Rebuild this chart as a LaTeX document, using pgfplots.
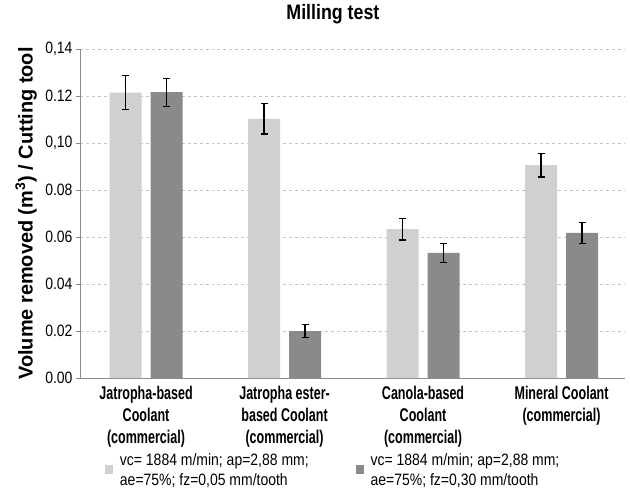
\documentclass[border=0pt]{standalone}
\usepackage{pgfplots}
\pgfplotsset{compat=1.18}
\usetikzlibrary{calc}
\usepackage{fontspec}
\setmainfont{Liberation Sans}[FakeStretch=0.85]
\newfontfamily\narrowfont{Liberation Sans}[FakeStretch=0.68]
\newfontfamily\ylabfont{Liberation Sans}
\definecolor{lightbar}{HTML}{D0D0D0}
\definecolor{darkbar}{HTML}{8A8A8A}
\definecolor{gridc}{HTML}{C4C4C4}
\definecolor{axc}{HTML}{8C8C8C}
\begin{document}
\begin{tikzpicture}
\begin{axis}[
  scale only axis,
  width=545bp, height=329bp,
  xmin=-0.477, xmax=3.458,
  ymin=0, ymax=0.14,
  ybar=0pt,
  bar width=32bp,
  axis x line*=bottom,
  axis y line*=left,
  axis line style={axc, line width=0.8pt},
  xtick={0,1,2,3},
  xticklabels={{Jatropha-based\\Coolant\\(commercial)},{Jatropha ester-\\based Coolant\\(commercial)},{Canola-based\\Coolant\\(commercial)},{Mineral Coolant\\(commercial)}},
  x tick style={draw=none},
  xticklabel style={anchor=north, align=center, inner sep=0pt, yshift=-3.5bp, font=\narrowfont\bfseries\fontsize{18.5}{22.5}\selectfont},
  ytick={0,0.02,0.04,0.06,0.08,0.10,0.12,0.14},
  yticklabels={0.00,0.02,0.04,0.06,0.08,{0,10},0.12,{0,14}},
  yticklabel style={font=\fontsize{16.5}{20}\selectfont, xshift=0bp},
  y tick style={axc, line width=0.8pt},
  tick align=outside,
  major tick length=4bp,
  ymajorgrids,
  grid style={gridc, dashed, line width=0.9pt},
  title={\bfseries Milling test},
  title style={at={(rel axis cs:0.464,1.0708)}, anchor=base, yshift=0pt, font=\fontsize{21}{25}\selectfont},
  ylabel={\ylabfont\bfseries Volume removed (m\textsuperscript{3}) / Cutting tool},
  every axis y label/.style={at={(rel axis cs:-0.099,0.5)}, anchor=center, rotate=90, font=\fontsize{20}{24}\selectfont},
  legend columns=2,
  legend style={at={(rel axis cs:0.04,-0.216)}, anchor=north west, draw=none, fill=none,
    font=\fontsize{16.5}{20.5}\selectfont,
    cells={align=left, anchor=west},
    /tikz/every odd column/.append style={column sep=5bp},
    /tikz/every even column/.append style={column sep=45bp}},
  legend image code/.code={\fill[#1] (0bp,-4bp) rectangle (8bp,5bp);},
  error bars/y dir=both,
  error bars/y explicit,
  error bars/error bar style={black, line width=1.2pt},
  error bars/error mark options={black, rotate=90, mark size=3.5bp, line width=1.2pt},
]
\addplot[fill=lightbar, draw=none, bar shift=-20.5bp] coordinates {
  (0,0.1214) +- (0,0.0073)
  (1,0.1103) +- (0,0.0065)
  (2,0.0633) +- (0,0.0046)
  (3,0.0906) +- (0,0.0051)
};
\addplot[fill=darkbar, draw=none, bar shift=20.5bp] coordinates {
  (0,0.1216) +- (0,0.0059)
  (1,0.0200) +- (0,0.0026)
  (2,0.0532) +- (0,0.0041)
  (3,0.0618) +- (0,0.0044)
};
\legend{{vc= 1884 m/min; ap=2,88 mm;\\ae=75\%; fz=0,05 mm/tooth},{vc= 1884 m/min; ap=2,88 mm;\\ae=75\%; fz=0,30 mm/tooth}}
\coordinate (bl) at (rel axis cs:0,0);
\end{axis}
\pgfresetboundingbox
\path[use as bounding box] ($(bl)+(-80bp,-126bp)$) rectangle ++(630bp,504bp);
\end{tikzpicture}
\end{document}
